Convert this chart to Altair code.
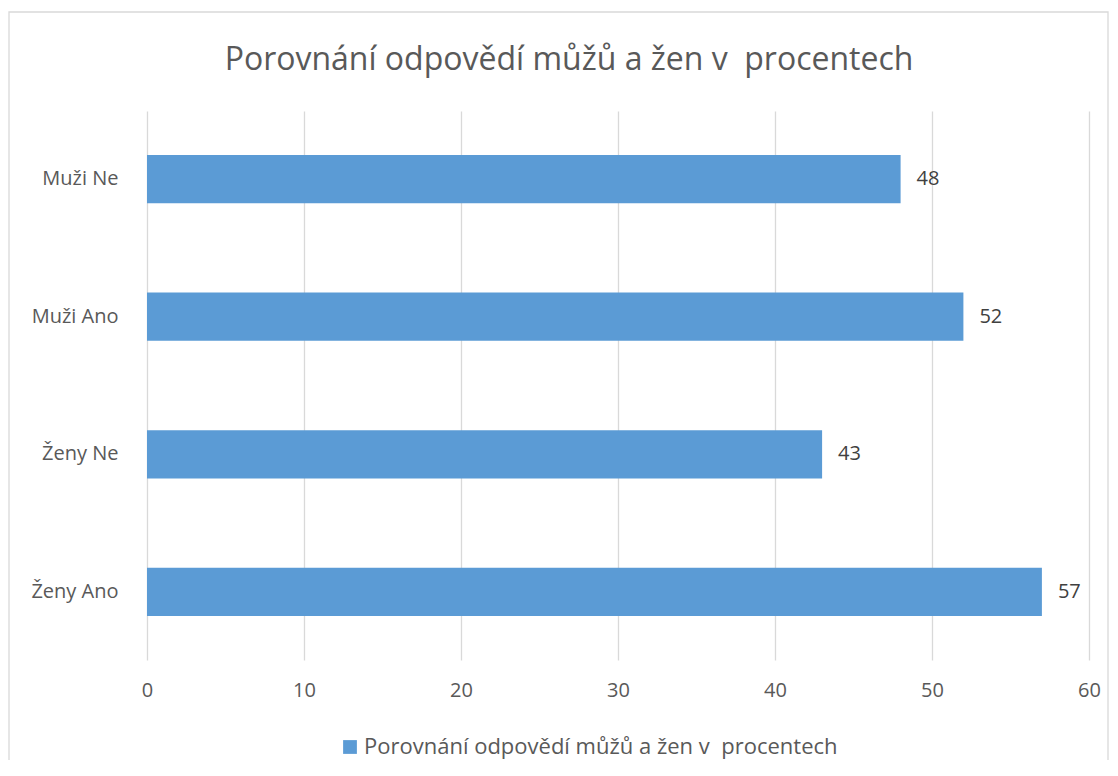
import altair as alt
import pandas as pd

categories = ["Muži Ne", "Muži Ano", "Ženy Ne", "Ženy Ano"]
values = [48, 52, 43, 57]
series_name = "Porovnání odpovědí můžů a žen v \u00a0procentech"
title_text = "Porovnání odpovědí můžů a žen v \u00a0procentech"
x_ticks = [0, 10, 20, 30, 40, 50, 60]

df = pd.DataFrame({"cat": categories, "val": values, "series": [series_name] * len(categories)})

FONT = "Open Sans"
W, H = 942, 549

base = alt.Chart(df)

border = alt.Chart(pd.DataFrame({"a": [0]})).mark_rect(
    fill="white", fillOpacity=0, stroke="#D9D9D9", strokeWidth=1.3
).encode(
    x=alt.value(-138), x2=alt.value(961), y=alt.value(-99), y2=alt.value(655)
)

bars = base.mark_bar(color="#5B9BD5").encode(
    y=alt.Y("cat:N", sort=categories, title=None,
            scale=alt.Scale(paddingInner=0.65, paddingOuter=0.32),
            axis=alt.Axis(labelFontSize=20, labelColor="#595959", labelFont=FONT,
                          labelPadding=29, ticks=False, domain=False, grid=False)),
    x=alt.X("val:Q", title=None,
            scale=alt.Scale(domain=[0, 60], nice=False),
            axis=alt.Axis(values=x_ticks, labelFontSize=20, labelColor="#595959", labelFont=FONT,
                          labelPadding=20, labelFlush=False, ticks=False, domain=False, grid=True,
                          gridColor="#D9D9D9", gridWidth=1.3)),
    color=alt.Color("series:N", scale=alt.Scale(range=["#5B9BD5"]), title=None,
                    legend=alt.Legend(orient="none", legendX=192, legendY=625,
                                      symbolType="square", symbolSize=190,
                                      symbolStrokeWidth=0, labelFontSize=22,
                                      labelColor="#595959", labelFont=FONT,
                                      labelOffset=3, labelLimit=900)),
)

labels = base.mark_text(align="left", baseline="middle", dx=16, fontSize=20,
                        color="#404040", font=FONT).encode(
    y=alt.Y("cat:N", sort=categories),
    x=alt.X("val:Q"),
    text=alt.Text("val:Q"),
)

chart = alt.layer(border, bars, labels).properties(
    width=W, height=H,
    title=alt.TitleParams(title_text, fontSize=32, font=FONT, color="#595959",
                          fontWeight="normal", anchor="middle", frame="group", offset=0,
                          baseline="alphabetic", dy=91, dx=-49),
    padding={"left": 139, "top": 103, "right": 20, "bottom": 100},
    autosize=alt.AutoSizeParams(type="none"),
    background="white",
).configure_view(stroke=None)

chart.save("out.html", embed_options={"renderer": "svg", "actions": False})
